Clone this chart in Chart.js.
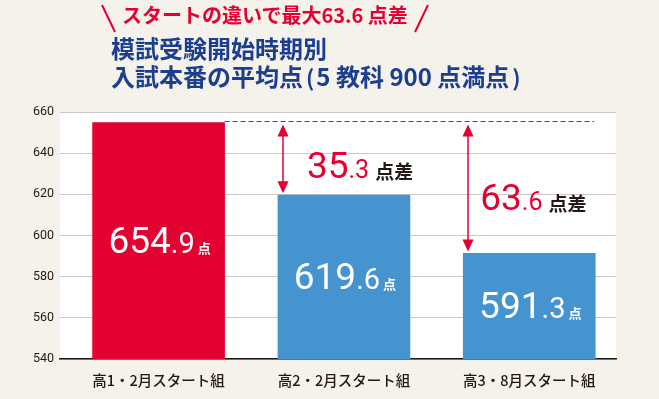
<!DOCTYPE html>
<html>
<head>
<meta charset="utf-8">
<script src="https://cdn.jsdelivr.net/npm/chart.js@4"></script>
<style>
  html, body { margin: 0; padding: 0; background: #f5f2ec; }
  #wrap { position: relative; width: 659px; height: 399px; }
  #scoreChart { position: absolute; left: 0; top: 0; }
  .ttl { position: absolute; font-family: "Noto Sans CJK JP"; font-weight: bold; white-space: nowrap; }
  #lead { left: 122px; top: 1px; font-size: 20px; line-height: 28px; color: #e50032; }
  #head { left: 111px; top: 34px; font-size: 24px; line-height: 28px; color: #1b3f8e; }
  .par { display: inline-block; font-size: 22px; margin: 0 2px 0 3px; }
</style>
</head>
<body>
<div id="wrap">
  <canvas id="scoreChart" width="659" height="399"></canvas>
  <div class="ttl" id="lead">スタートの違いで最大63.6 点差</div>
  <div class="ttl" id="head">模試受験開始時期別<br>入試本番の平均点<span class="par">(</span>5 教科 900 点満点<span class="par">)</span></div>
</div>

<script>
/* data */
const groups = ['高1・2月スタート組', '高2・2月スタート組', '高3・8月スタート組'];
const scores = [654.9, 619.6, 591.3];
const barColors = ['#e50032', '#4594cf', '#4594cf'];
const yTicks = [540, 560, 580, 600, 620, 640, 660];

const RED = '#e50032';
const INK = '#231815';
const BAR_W = 132;

// split "654.9" into "654" and ".9"
function splitNum(v) {
  const s = v.toFixed(1);
  const i = s.indexOf('.');
  return [s.slice(0, i), s.slice(i)];
}

/* white plot area + title slashes */
const backdrop = {
  id: 'backdrop',
  beforeDraw(chart) {
    const { ctx, chartArea: a } = chart;
    ctx.save();
    ctx.fillStyle = '#ffffff';
    ctx.fillRect(a.left, a.top, a.right - a.left, a.bottom - a.top);
    ctx.strokeStyle = RED;
    ctx.lineWidth = 2;
    ctx.beginPath();
    ctx.moveTo(102, 5); ctx.lineTo(115, 32);
    ctx.moveTo(428, 5); ctx.lineTo(415, 32);
    ctx.stroke();
    ctx.restore();
  }
};

/* value labels, dashed line, arrows, gap labels */
const marks = {
  id: 'marks',
  afterDatasetsDraw(chart) {
    const { ctx, chartArea } = chart;
    const xs = chart.scales.x, ys = chart.scales.y;
    const cx = scores.map((v, i) => xs.getPixelForValue(i));
    const cy = scores.map(v => ys.getPixelForValue(v));
    const bottom = chartArea.bottom;
    ctx.save();
    ctx.textAlign = 'left';
    ctx.textBaseline = 'alphabetic';

    // values inside bars
    scores.forEach((v, i) => {
      const [a, b] = splitNum(v);
      const f1 = '37px Roboto', f2 = '29px Roboto', f3 = 'bold 13px "Noto Sans CJK JP"';
      ctx.font = f1; const w1 = ctx.measureText(a).width;
      ctx.font = f2; const w2 = ctx.measureText(b).width;
      ctx.font = f3; const w3 = ctx.measureText('点').width;
      const gap = 3;
      let x = cx[i] + 1 - (w1 + w2 + gap + w3) / 2;
      const base = (cy[i] + bottom) / 2 + 12;
      ctx.fillStyle = '#ffffff';
      ctx.font = f1; ctx.fillText(a, x, base); x += w1;
      ctx.font = f2; ctx.fillText(b, x, base); x += w2 + gap;
      ctx.font = f3; ctx.fillText('点', x, base);
    });

    // dashed line at top score
    const top = cy[0];
    const dy = Math.round(top - 1.5) + 0.5;
    ctx.strokeStyle = RED;
    ctx.lineWidth = 1;
    ctx.setLineDash([5, 3]);
    ctx.beginPath();
    ctx.moveTo(cx[0] + BAR_W / 2, dy);
    ctx.lineTo(cx[cx.length - 1] + BAR_W / 2 - 1, dy);
    ctx.stroke();
    ctx.setLineDash([]);

    // arrows + gap labels
    const textDx = [29, 17];
    const textDy = [6, 9];
    for (let i = 1; i < scores.length; i++) {
      const left = cx[i] - BAR_W / 2;
      const ax = Math.round(left + 5);
      const y1 = top + 2, y2 = cy[i] - 2;
      const hw = 5.5, hh = 12;
      ctx.strokeStyle = RED;
      ctx.fillStyle = RED;
      ctx.lineWidth = 1.5;
      ctx.beginPath();
      ctx.moveTo(ax, y1 + hh - 1); ctx.lineTo(ax, y2 - hh + 1);
      ctx.stroke();
      ctx.beginPath();
      ctx.moveTo(ax, y1); ctx.lineTo(ax - hw, y1 + hh); ctx.lineTo(ax + hw, y1 + hh); ctx.closePath();
      ctx.fill();
      ctx.beginPath();
      ctx.moveTo(ax, y2); ctx.lineTo(ax - hw, y2 - hh); ctx.lineTo(ax + hw, y2 - hh); ctx.closePath();
      ctx.fill();

      const [a, b] = splitNum(scores[0] - scores[i]);
      let x = left + textDx[i - 1];
      const mid = ys.getPixelForValue((scores[0] + scores[i]) / 2);
      const base = mid + textDy[i - 1] + 13;
      ctx.fillStyle = RED;
      ctx.font = '37px Roboto'; ctx.fillText(a, x, base); x += ctx.measureText(a).width;
      ctx.font = '25px Roboto'; ctx.fillText(b, x, base); x += ctx.measureText(b).width + 6;
      ctx.fillStyle = INK;
      ctx.font = 'bold 19px "Noto Sans CJK JP"'; ctx.fillText('点差', x, base + 1);
    }
    ctx.restore();
  }
};

new Chart(document.getElementById('scoreChart'), {
  type: 'bar',
  data: {
    datasets: [{
      data: scores.map((v, i) => ({ x: i, y: v })),
      backgroundColor: barColors,
      barThickness: BAR_W
    }]
  },
  options: {
    responsive: false,
    animation: false,
    layout: { padding: { top: 112, right: 43, bottom: 0, left: 0 }},
    plugins: { legend: { display: false }, tooltip: { enabled: false }},
    scales: {
      x: {
        type: 'linear',
        offset: false,
        min: -0.532,
        max: 2.468,
        afterBuildTicks: s => { s.ticks = groups.map((g, i) => ({ value: i })); },
        afterFit: s => { s.height = 40; },
        grid: { display: false, offset: false },
        border: { color: INK, width: 1.5 },
        ticks: {
          autoSkip: false,
          maxRotation: 0,
          padding: 5,
          color: INK,
          font: { family: '"Noto Sans CJK JP"', size: 14.5, weight: 500 },
          callback: v => groups[v]
        }
      },
      y: {
        min: 540,
        max: 660,
        afterBuildTicks: s => { s.ticks = yTicks.map(v => ({ value: v })); },
        afterFit: s => { s.width = 60; },
        grid: { color: '#c9c9c9', lineWidth: 1, drawTicks: false },
        border: { display: false },
        ticks: {
          padding: 6,
          color: INK,
          font: { family: 'Roboto', size: 12.5 }
        }
      }
    }
  },
  plugins: [backdrop, marks]
});
</script>
</body>
</html>
